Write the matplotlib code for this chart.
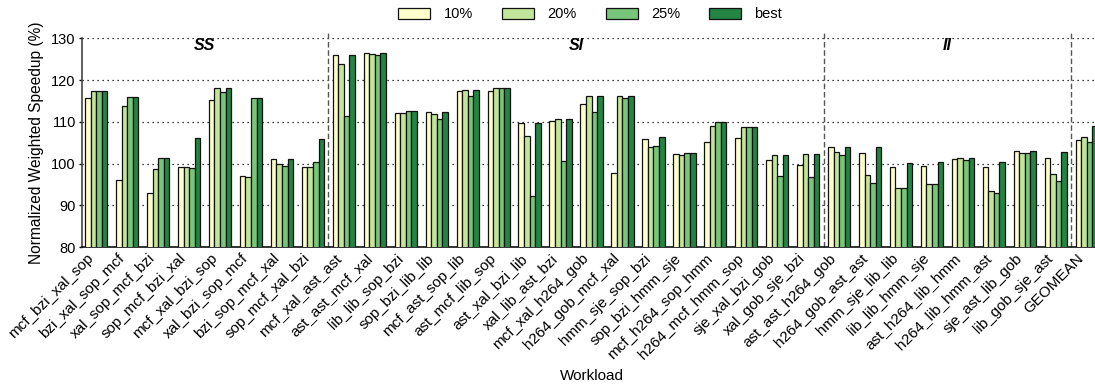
import numpy as np
import matplotlib
matplotlib.use("Agg")
import matplotlib.pyplot as plt

plt.rcParams["font.family"] = ["Liberation Sans", "DejaVu Sans"]

workloads = [
    "mcf_bzi_xal_sop", "bzi_xal_sop_mcf", "xal_sop_mcf_bzi", "sop_mcf_bzi_xal",
    "mcf_xal_bzi_sop", "xal_bzi_sop_mcf", "bzi_sop_mcf_xal", "sop_mcf_xal_bzi",
    "mcf_xal_ast_ast", "ast_ast_mcf_xal", "lib_lib_sop_bzi", "sop_bzi_lib_lib",
    "mcf_ast_sop_lib", "ast_mcf_lib_sop", "ast_xal_bzi_lib", "xal_lib_ast_bzi",
    "mcf_xal_h264_gob", "h264_gob_mcf_xal", "hmm_sje_sop_bzi", "sop_bzi_hmm_sje",
    "mcf_h264_sop_hmm", "h264_mcf_hmm_sop", "sje_xal_bzi_gob", "xal_gob_sje_bzi",
    "ast_ast_h264_gob", "h264_gob_ast_ast", "hmm_sje_lib_lib", "lib_lib_hmm_sje",
    "ast_h264_lib_hmm", "h264_lib_hmm_ast", "sje_ast_lib_gob", "lib_gob_sje_ast",
    "GEOMEAN",
]

speedup_10 = [115.8, 96.0, 92.9, 99.3, 115.2, 97.0, 101.2, 99.1,
              126.1, 126.5, 112.2, 112.3, 117.4, 117.3, 109.8, 110.1,
              114.4, 97.8, 105.8, 102.4, 105.1, 106.2, 100.9, 99.8,
              104.1, 102.5, 99.2, 99.4, 101.1, 99.3, 103.1, 101.4,
              105.7]
speedup_20 = [117.5, 113.7, 98.7, 99.3, 118.2, 96.8, 100.0, 99.1,
              123.9, 126.2, 112.2, 111.8, 117.6, 118.2, 106.7, 110.6,
              116.1, 116.1, 104.0, 102.2, 109.1, 108.7, 102.2, 102.3,
              102.7, 97.2, 94.1, 95.1, 101.4, 93.4, 102.6, 97.5,
              106.3]
speedup_25 = [117.5, 116.0, 101.3, 98.9, 117.2, 115.8, 99.5, 100.3,
              111.4, 126.0, 112.7, 110.8, 116.3, 118.0, 92.3, 100.7,
              112.3, 115.8, 104.2, 102.6, 109.9, 108.7, 97.0, 96.9,
              102.2, 95.3, 94.1, 95.1, 100.9, 93.0, 102.6, 95.8,
              105.3]
speedup_best = [117.5, 116.0, 101.3, 106.2, 118.2, 115.8, 101.2, 106.0,
                126.1, 126.5, 112.7, 112.4, 117.6, 118.2, 109.8, 110.8,
                116.1, 116.1, 106.3, 102.6, 109.9, 108.7, 102.2, 102.3,
                104.1, 103.9, 100.1, 100.3, 101.4, 100.5, 103.1, 102.9,
                109.0]

series_names = ["10%", "20%", "25%", "best"]
series_values = [speedup_10, speedup_20, speedup_25, speedup_best]
colors = ["#ffffcc", "#c2e699", "#78c679", "#238443"]

# section boundaries (between workload indices) and section titles
dividers = [7.5, 23.5, 31.5]
sections = [("SS", 3.5), ("SI", 15.5), ("II", 27.5)]

fig = plt.figure(figsize=(10.95, 3.87), dpi=100)
ax = fig.add_axes([0.0749, 0.361, 0.9306, 0.540])

x = np.arange(len(workloads))
width = 0.18
for i, (name, vals, c) in enumerate(zip(series_names, series_values, colors)):
    ax.bar(x + (i - 1.5) * width, vals, width, color=c, edgecolor="#111111",
           linewidth=0.9, label=name, zorder=3)

ax.set_xlim(-0.46, len(workloads) - 0.54)
ax.set_ylim(80, 130)
ax.set_yticks([80, 90, 100, 110, 120, 130])
ax.yaxis.grid(True, linestyle=(0, (1, 3)), color="black", linewidth=0.9, zorder=0)
ax.set_axisbelow(True)

for s in ["top", "right"]:
    ax.spines[s].set_visible(False)
ax.spines["left"].set_linewidth(1.2)
ax.spines["left"].set_color("#444444")
ax.spines["bottom"].set_linewidth(1.2)
ax.spines["bottom"].set_color("#111111")
ax.tick_params(axis="x", length=0, labelsize=11, pad=3)
ax.tick_params(axis="y", length=2.5, width=1.0, direction="out",
               labelsize=10.5, pad=2)

ax.set_xticks(x)
ax.set_xticklabels(workloads, rotation=45, ha="right")

for d in dividers:
    ax.axvline(d, ymin=0, ymax=1.03, color="#555555", linestyle=(0, (4, 2)),
               linewidth=1.0, zorder=2, clip_on=False)

for label, xc in sections:
    ax.text(xc, 128.2, label, ha="center", va="center", fontsize=11.5,
            fontweight="bold", fontstyle="italic")

ax.set_ylabel("Normalized Weighted Speedup (%)", fontsize=11.2, labelpad=5)
ax.set_xlabel("Workload", fontsize=11, labelpad=5)

fig.legend(loc="upper center", bbox_to_anchor=(0.539, 1.015), ncol=4,
           frameon=False, fontsize=10.5, handlelength=2.2, handleheight=0.75,
           columnspacing=2.0, handletextpad=0.9)

fig.savefig("out.png", dpi=100)
